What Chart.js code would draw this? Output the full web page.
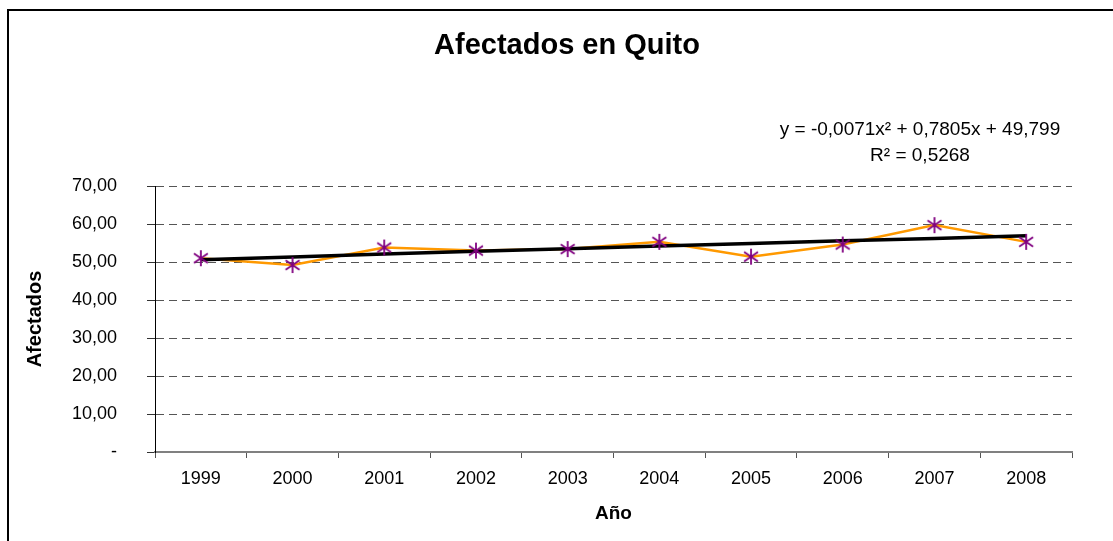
<!DOCTYPE html>
<html>
<head>
<meta charset="utf-8">
<script src="https://cdn.jsdelivr.net/npm/chart.js@4.4.1/dist/chart.umd.min.js"></script>
<style>
  html, body { margin: 0; padding: 0; background: #fff; }
  #wrap { width: 1113px; height: 541px; }
</style>
</head>
<body>
<div id="wrap"><canvas id="quitoChart"></canvas></div>
<script>
// datos
const anios = ['1999', '2000', '2001', '2002', '2003', '2004', '2005', '2006', '2007', '2008'];
const afectados = [51.0, 49.2, 53.8, 53.0, 53.4, 55.3, 51.4, 54.6, 59.7, 55.3];
const tendencia = [50.6, 51.3, 52.1, 52.8, 53.5, 54.2, 54.9, 55.6, 56.2, 56.9];
const yTicks = [0, 10, 20, 30, 40, 50, 60, 70];

const titulo = 'Afectados en Quito';
const ecuacion = 'y = -0,0071x\u00B2 + 0,7805x + 49,799';
const r2 = 'R\u00B2 = 0,5268';

const fuente = "'Liberation Sans', Arial, sans-serif";

// marcador asterisco estilo Excel
function asterisco(size, color) {
	const c = document.createElement('canvas');
	c.width = size; c.height = size;
	const g = c.getContext('2d');
	const m = size / 2, r = size / 2 - 1;
	g.strokeStyle = color;
	g.lineWidth = 1.8;
	g.beginPath();
	g.moveTo(m, m - r); g.lineTo(m, m + r);
	g.moveTo(m - r * 0.87, m - r * 0.6); g.lineTo(m + r * 0.87, m + r * 0.6);
	g.moveTo(m - r * 0.87, m + r * 0.6); g.lineTo(m + r * 0.87, m - r * 0.6);
	g.stroke();
	return c;
}

const textos = {
	id: 'textos',
	beforeDraw(chart) {
		const c = chart.ctx;
		c.save();
		c.strokeStyle = '#000';
		c.lineWidth = 2;
		c.strokeRect(8, 10, 1300, 700);
		c.restore();
	},
	afterDraw(chart) {
		const c = chart.ctx;
		c.save();
		c.fillStyle = '#000';
		c.textAlign = 'center';
		c.textBaseline = 'middle';
		c.font = 'bold 29px ' + fuente;
		c.fillText(titulo, 567, 46);
		c.font = '19px ' + fuente;
		c.fillText(ecuacion, 920, 130);
		c.fillText(r2, 920, 156);
		c.restore();
	}
};

const ctx = document.getElementById('quitoChart').getContext('2d');

const chart = new Chart(ctx, {
	type: 'line',
	data: {
		labels: anios,
		datasets: [
			{
				label: 'marcadores',
				data: afectados,
				showLine: false,
				pointStyle: asterisco(18, '#800080'),
				pointRadius: 9,
				order: 0
			},
			{
				label: 'tendencia',
				data: tendencia,
				borderColor: '#000',
				borderWidth: 3.5,
				pointRadius: 0,
				tension: 0,
				order: 1
			},
			{
				label: 'Afectados',
				data: afectados,
				borderColor: '#FF9900',
				borderWidth: 2.5,
				pointRadius: 0,
				tension: 0,
				order: 2
			}
		]
	},
	options: {
		responsive: true,
		maintainAspectRatio: false,
		animation: false,
		layout: {
			padding: { top: 186, right: 41, bottom: 0, left: 0 }
		},
		plugins: {
			legend: { display: false },
			tooltip: { enabled: false }
		},
		scales: {
			x: {
				offset: true,
				afterFit: s => { s.height = 89; },
				grid: {
					drawOnChartArea: false,
					offset: true,
					tickLength: 6,
					tickColor: '#555'
				},
				border: { color: '#808080', width: 2 },
				ticks: {
					color: '#000',
					padding: 10,
					maxRotation: 0,
					font: { family: fuente, size: 18 }
				},
				title: {
					display: true,
					text: 'Año',
					color: '#000',
					padding: { top: 0, bottom: 16 },
					font: { family: fuente, size: 19, weight: 'bold' }
				}
			},
			y: {
				min: 0,
				max: 70,
				afterFit: s => { s.width = 155; },
				afterBuildTicks: s => { s.ticks = yTicks.map(v => ({ value: v })); },
				grid: {
					color: c => c.tick && c.tick.value === 0 ? 'rgba(0,0,0,0)' : '#555',
					lineWidth: 1,
					tickLength: 8,
					tickColor: '#333'
				},
				border: { color: '#000', width: 1, dash: [8, 5] },
				ticks: {
					color: '#000',
					padding: 30,
					autoSkip: false,
					font: { family: fuente, size: 18 },
					callback: v => v === 0 ? '-' : v.toFixed(2).replace('.', ',')
				},
				title: {
					display: true,
					text: 'Afectados',
					color: '#000',
					padding: { top: 23, bottom: 0 },
					font: { family: fuente, size: 20, weight: 'bold' }
				}
			}
		}
	},
	plugins: [textos]
});
</script>
</body>
</html>
